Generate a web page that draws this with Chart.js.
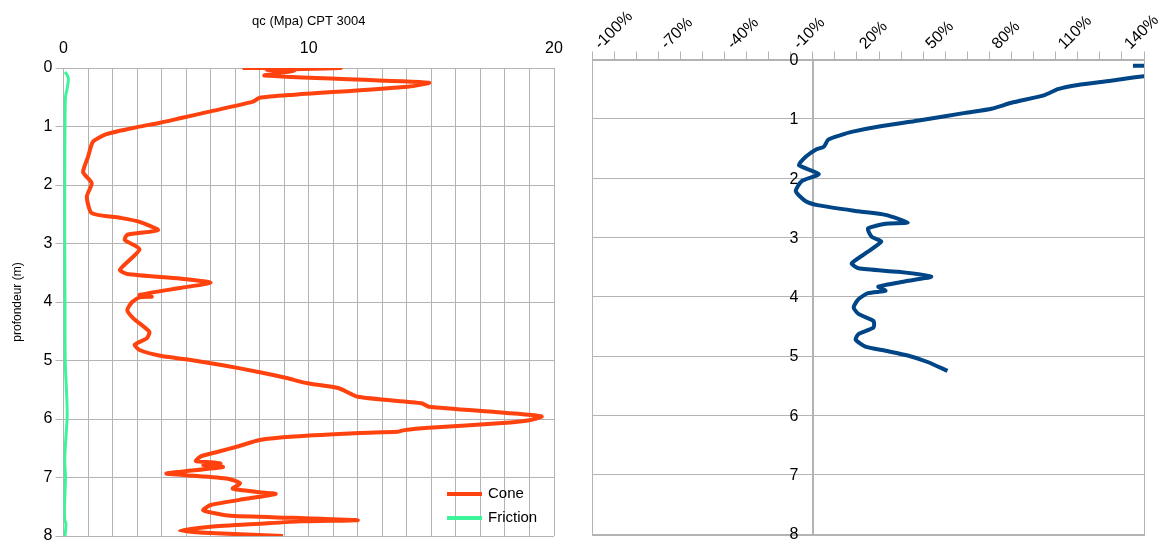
<!DOCTYPE html>
<html>
<head>
<meta charset="utf-8">
<title>CPT 3004</title>
<script src="https://cdn.jsdelivr.net/npm/chart.js@4.4.0/dist/chart.umd.min.js"></script>
<style>
  html, body { margin: 0; padding: 0; background: #fff; }
  #wrap { position: relative; width: 1167px; height: 547px; }
  canvas { position: absolute; top: 0; }
  #cptChart { left: 0; }
  #ratioChart { left: 575px; }
</style>
</head>
<body>
<div id="wrap">
  <canvas id="cptChart" width="575" height="547"></canvas>
  <canvas id="ratioChart" width="592" height="547"></canvas>
</div>
<script>
'use strict';
//////////////// data

// cone resistance qc (MPa) against depth (m)
let coneDepth = [0, 0, 0.03, 0.05, 0.13, 0.25, 0.32, 0.46, 0.51, 0.58, 0.75, 0.86, 0.94, 1.01, 1.13, 1.26,
  1.52, 1.78, 1.97, 2.2, 2.48, 2.56, 2.63, 2.77, 2.85, 2.94, 3.1, 3.45, 3.52, 3.6, 3.67, 3.76, 3.88, 3.91,
  3.92, 4.0, 4.14, 4.28, 4.51, 4.62, 4.73, 4.82, 4.92, 4.98, 5.08, 5.2, 5.3, 5.39, 5.47, 5.62, 5.73, 5.79,
  5.88, 5.93, 5.96, 6.02, 6.07, 6.15, 6.19, 6.22, 6.24, 6.3, 6.36, 6.47, 6.56, 6.64, 6.72, 6.74, 6.76, 6.79,
  6.82, 6.93, 6.96, 7.02, 7.1, 7.19, 7.25, 7.28, 7.36, 7.47, 7.56, 7.65, 7.69, 7.73, 7.75, 7.79, 7.84, 7.91,
  7.95, 8.0];
let coneQc = [7.3, 11.3, 8.3, 9.4, 8.2, 14.9, 14.05, 9.3, 8.0, 7.7, 5.9, 4.75, 3.9, 3.0, 1.75, 1.2,
  1.0, 0.8, 1.15, 0.95, 1.15, 2.3, 3.1, 3.85, 2.6, 2.5, 3.1, 2.3, 2.6, 4.75, 6.0, 4.75, 3.1, 3.6,
  3.1, 2.8, 2.6, 2.85, 3.5, 3.4, 2.9, 3.1, 3.95, 5.0, 6.5, 8.0, 9.1, 9.95, 11.2, 12.0, 14.6, 14.9,
  17.6, 19.1, 19.5, 19.0, 17.9, 14.9, 13.9, 13.6, 12.1, 9.4, 8.0, 7.1, 6.3, 5.6, 5.4, 6.0, 6.4, 5.7,
  6.5, 4.2, 5.0, 6.7, 7.2, 6.9, 8.0, 8.65, 7.5, 6.0, 5.7, 6.7, 9.4, 12.0, 9.7, 8.0, 6.0, 4.75,
  6.0, 8.95];

// sleeve friction (MPa) against depth (m)
let frictionDepth = [0.07, 0.1, 0.18, 0.35, 0.5, 1, 2, 3, 4, 5, 5.6, 5.95, 6.3, 6.7, 7, 7.5, 7.72, 7.8, 8];
let frictionQs = [0.05, 0.12, 0.2, 0.15, 0.08, 0.06, 0.05, 0.05, 0.06, 0.07, 0.13, 0.15, 0.1, 0.05, 0.08, 0.04, 0.05, 0.1, 0.06];

// ratio (%) against depth (m)
let ratioDepth = [0.105, 0.11, 0.18, 0.26, 0.29, 0.36, 0.43, 0.5, 0.6, 0.73, 0.83, 0.9, 1.03, 1.13, 1.22,
  1.27, 1.35, 1.47, 1.52, 1.64, 1.78, 1.93, 2.05, 2.22, 2.39, 2.46, 2.56, 2.62, 2.75, 2.77, 2.85, 2.99,
  3.07, 3.27, 3.44, 3.52, 3.58, 3.66, 3.74, 3.83, 3.9, 3.94, 4.04, 4.18, 4.29, 4.41, 4.52, 4.63, 4.72,
  4.84, 4.91, 4.99, 5.1, 5.25];
let ratioPct = [145, 160, 175, 160, 148, 135, 120, 111, 105, 90, 81, 69, 48, 30, 17.6,
  13, 7, 5, 1.3, -3.2, -6.3, 2.7, -5, -7.7, -3.2, 2.7, 20.7, 32.9, 43, 33, 25, 26.7,
  31, 23.8, 17.6, 20.7, 38.7, 53.6, 42, 29.7, 32.9, 25, 20.7, 18.5, 20.7, 27.5, 27.5, 20.7, 19.4,
  23.8, 32.9, 43, 52, 61];

let qcTicks = [0, 10, 20];
let pctTicks = [-100, -70, -40, -10, 20, 50, 80, 110, 140];
let depthTicks = [0, 1, 2, 3, 4, 5, 6, 7, 8];

//////////////// helpers

const gridGrey = '#b3b3b3';
const fontFamily = '"Liberation Sans", Arial, sans-serif';
Chart.defaults.font.family = fontFamily;
Chart.defaults.color = '#000';

function toPoints(xs, ys) {
  return xs.map((v, i) => ({ x: v, y: ys[i] }));
}

// legend drawn inside the plot, bottom right
const insideLegend = {
  id: 'insideLegend',
  afterDraw(chart) {
    const { ctx, chartArea } = chart;
    const x0 = chartArea.right - 107;
    let y = chartArea.bottom - 42;
    ctx.save();
    ctx.font = '15px ' + fontFamily;
    ctx.textBaseline = 'middle';
    chart.data.datasets.forEach(ds => {
      ctx.strokeStyle = ds.borderColor;
      ctx.lineWidth = 4;
      ctx.beginPath();
      ctx.moveTo(x0, y);
      ctx.lineTo(x0 + 35, y);
      ctx.stroke();
      ctx.fillStyle = '#000';
      ctx.fillText(ds.label, x0 + 41, y);
      y += 24;
    });
    ctx.restore();
  }
};

// thin box round the plot area, plus the depth axis sitting on x = 0 with its labels
const frame = {
  id: 'frame',
  beforeDatasetsDraw(chart) {
    const { ctx, chartArea: a, scales } = chart;
    const axisX = Math.round(scales.x.getPixelForValue(0)) + 0.5;
    ctx.save();
    ctx.strokeStyle = gridGrey;
    ctx.lineWidth = 1;
    ctx.strokeRect(Math.round(a.left) + 0.5, Math.round(a.top) + 0.5,
      Math.round(a.right - a.left), Math.round(a.bottom - a.top));
    ctx.beginPath();
    ctx.moveTo(axisX, a.top);
    ctx.lineTo(axisX, a.bottom);
    ctx.stroke();
    ctx.fillStyle = '#000';
    ctx.font = '16px ' + fontFamily;
    ctx.textAlign = 'right';
    ctx.textBaseline = 'middle';
    depthTicks.forEach(d => {
      ctx.fillText(String(d), axisX - 15, scales.y.getPixelForValue(d) + 1);
    });
    ctx.restore();
  }
};

//////////////// cone / friction chart

new Chart(document.getElementById('cptChart'), {
  type: 'scatter',
  data: {
    datasets: [
      { label: 'Cone', data: toPoints(coneQc, coneDepth), showLine: true, borderColor: '#ff420e',
        borderWidth: 4, pointRadius: 0, tension: 0.2 },
      { label: 'Friction', data: toPoints(frictionQs, frictionDepth), showLine: true, borderColor: '#3cf59a',
        borderWidth: 3, pointRadius: 0, tension: 0.3 }
    ]
  },
  options: {
    responsive: false,
    animation: false,
    layout: { padding: { left: 0, right: 21, top: 0, bottom: 11 } },
    plugins: { legend: { display: false }, tooltip: { enabled: false } },
    scales: {
      x: {
        type: 'linear', position: 'top', min: 0, max: 20,
        ticks: { stepSize: 1, autoSkip: false, maxRotation: 0, padding: 10, font: { size: 16 },
          callback: v => qcTicks.includes(v) ? v : '' },
        grid: { color: gridGrey, drawTicks: false },
        border: { color: gridGrey },
        title: { display: true, text: 'qc (Mpa) CPT 3004', font: { size: 13 }, padding: { top: 14, bottom: 0 } },
        afterFit: s => { s.height = 68; s.paddingLeft = 0; s.paddingRight = 0; }
      },
      y: {
        type: 'linear', min: 0, max: 8, reverse: true,
        ticks: { stepSize: 1, padding: 3, font: { size: 16 } },
        grid: { color: gridGrey, tickLength: 8 },
        border: { color: gridGrey },
        title: { display: true, text: 'profondeur (m)', font: { size: 12 }, padding: { top: 10, bottom: 0 } },
        afterFit: s => { s.width = 63.5; s.paddingTop = 0; s.paddingBottom = 0; }
      }
    }
  },
  plugins: [insideLegend]
});

//////////////// ratio chart

new Chart(document.getElementById('ratioChart'), {
  type: 'scatter',
  data: {
    datasets: [
      { label: 'Rf', data: toPoints(ratioPct, ratioDepth), showLine: true, borderColor: '#004586',
        borderWidth: 4, pointRadius: 0, tension: 0.2 }
    ]
  },
  options: {
    responsive: false,
    animation: false,
    layout: { padding: { left: 17, right: 23, top: 0, bottom: 13 } },
    plugins: { legend: { display: false }, tooltip: { enabled: false } },
    scales: {
      x: {
        type: 'linear', position: 'top', min: -100, max: 150,
        ticks: { stepSize: 10, autoSkip: false, minRotation: 45, maxRotation: 45, padding: -2, labelOffset: 19,
          font: { size: 16 }, callback: v => pctTicks.includes(v) ? v + '%' : '' },
        grid: { drawOnChartArea: false, color: gridGrey, tickLength: 8 },
        border: { color: gridGrey },
        afterFit: s => { s.height = 59.5; s.paddingLeft = 0; s.paddingRight = 0; }
      },
      y: {
        type: 'linear', position: { x: 0 }, min: 0, max: 8, reverse: true,
        ticks: { stepSize: 1, display: false },
        grid: { color: gridGrey, tickLength: 8 },
        border: { color: gridGrey },
        afterFit: s => { s.paddingTop = 0; s.paddingBottom = 0; }
      }
    }
  },
  plugins: [frame]
});
</script>
</body>
</html>
